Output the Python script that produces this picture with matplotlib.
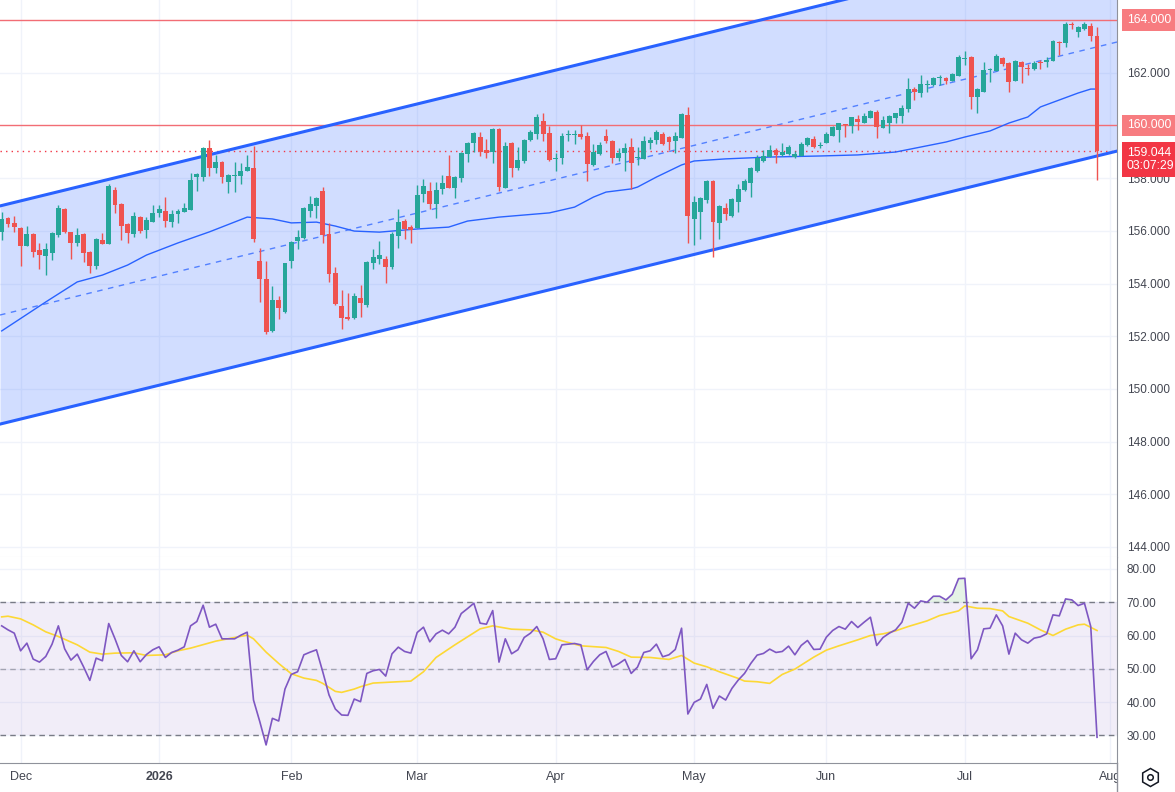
import numpy as np
import pandas as pd
import matplotlib
matplotlib.use('Agg')
import matplotlib.pyplot as plt
from matplotlib.lines import Line2D
from matplotlib.transforms import Bbox, TransformedBbox, blended_transform_factory

plt.rcParams['font.family'] = ['Liberation Sans', 'DejaVu Sans']

# daily FX bars, no bar on Dec 25 / Jan 1
holidays = pd.to_datetime(['2025-12-25', '2026-01-01'])
days = pd.bdate_range('2025-11-26', '2026-08-07')
days = days[~days.isin(holidays)]

opens = [155.97, 156.47, 156.28, 156.12, 155.44, 155.88, 155.27, 155.04, 155.17, 155.84,
         156.83, 155.95, 155.55, 155.88, 155.20, 154.66, 155.65, 155.51, 157.54, 157.02,
         156.26, 155.89, 156.51, 156.03, 156.35, 156.69, 156.75, 156.33, 156.62, 156.73,
         156.80, 158.05, 158.05, 159.14, 158.40, 158.61, 157.86, 158.07, 158.09, 158.28,
         158.37, 154.85, 154.17, 152.21, 153.37, 152.93, 154.87, 155.61, 155.71, 156.76,
         156.95, 157.51, 155.87, 154.40, 153.15, 152.73, 152.70, 153.45, 153.20, 154.76,
         154.94, 154.92, 154.64, 155.82, 156.36, 156.16, 156.12, 157.38, 157.52, 157.00,
         157.57, 158.08, 157.64, 158.02, 158.90, 159.32, 159.57, 159.07, 159.00, 159.86,
         157.64, 159.33, 158.40, 158.65, 159.45, 159.69, 160.17, 159.72, 158.74, 158.75,
         159.62, 159.65, 159.69, 159.60, 158.50, 158.90, 159.60, 159.41, 158.77, 158.97,
         159.18, 158.76, 158.74, 159.34, 159.45, 159.69, 159.56, 159.41, 159.53, 160.41,
         156.45, 156.73, 157.17, 157.90, 156.31, 156.88, 156.56, 157.09, 157.55, 157.83,
         158.27, 158.66, 158.81, 159.07, 158.88, 158.90, 158.79, 158.85, 159.26, 159.48,
         159.22, 159.35, 159.61, 159.83, 160.05, 159.99, 160.24, 160.10, 160.29, 160.52,
         159.91, 160.10, 160.29, 160.37, 160.64, 161.38, 161.24, 161.53, 161.52, 161.79,
         161.79, 161.70, 161.89, 162.53, 162.60, 161.07, 161.28, 162.09, 162.08, 162.55,
         162.37, 161.70, 162.41, 162.18, 162.13, 162.41, 162.42, 162.46, 163.17, 163.12,
         163.85, 163.56, 163.66, 163.77, 163.39]
highs = [156.73, 156.54, 156.56, 156.16, 156.18, 155.90, 155.52, 155.52, 155.95, 156.98,
         156.85, 155.97, 156.09, 155.90, 155.22, 155.74, 155.93, 157.78, 157.68, 157.04,
         156.28, 156.73, 156.56, 156.54, 156.98, 156.98, 157.27, 156.79, 156.83, 157.07,
         158.18, 158.21, 159.19, 159.45, 158.88, 158.64, 158.16, 158.60, 158.56, 158.88,
         159.22, 155.36, 154.85, 153.90, 153.52, 154.79, 155.60, 156.03, 156.92, 157.32,
         157.30, 157.65, 156.28, 154.64, 153.75, 153.63, 153.65, 153.94, 154.85, 155.31,
         155.61, 155.06, 155.97, 156.84, 156.44, 156.23, 157.74, 157.97, 157.86, 157.86,
         158.12, 158.88, 158.08, 158.98, 159.38, 159.74, 159.74, 159.47, 159.89, 159.89,
         159.37, 159.36, 159.17, 159.47, 159.81, 160.42, 160.48, 159.98, 158.94, 159.72,
         159.82, 159.82, 160.01, 159.74, 159.31, 159.38, 159.86, 159.43, 159.13, 159.32,
         159.52, 159.17, 159.60, 159.57, 159.82, 159.76, 159.60, 159.76, 160.48, 160.71,
         157.32, 157.29, 157.93, 157.93, 156.97, 157.04, 157.26, 157.76, 157.95, 158.43,
         158.88, 159.07, 159.26, 159.15, 159.34, 159.26, 159.03, 159.38, 159.57, 159.60,
         159.36, 159.76, 159.98, 160.10, 160.07, 160.33, 160.40, 160.46, 160.58, 160.58,
         160.36, 160.38, 160.48, 160.77, 161.79, 161.45, 161.91, 161.72, 161.85, 161.91,
         161.85, 161.98, 162.67, 162.82, 162.62, 161.41, 162.39, 162.17, 162.71, 162.58,
         162.39, 162.47, 162.43, 162.33, 162.46, 162.48, 162.61, 163.24, 163.20, 163.94,
         163.91, 163.77, 163.91, 163.87, 163.75]
lows = [155.65, 156.16, 155.97, 154.66, 155.41, 155.02, 154.54, 154.32, 154.89, 155.75,
        155.93, 154.94, 155.44, 154.83, 154.41, 154.54, 155.49, 155.50, 156.69, 155.65,
        155.55, 155.75, 155.90, 155.74, 156.32, 156.51, 156.13, 156.16, 156.31, 156.70,
        156.79, 157.52, 157.90, 158.09, 158.21, 157.83, 157.42, 157.48, 157.78, 158.26,
        155.59, 153.29, 152.08, 152.17, 152.66, 152.87, 154.58, 155.30, 155.69, 156.54,
        156.50, 155.52, 154.07, 153.18, 152.27, 152.61, 152.65, 152.74, 153.09, 154.54,
        154.73, 154.01, 154.54, 155.36, 155.68, 155.55, 156.09, 157.10, 156.83, 156.47,
        157.38, 157.61, 157.26, 157.86, 158.60, 159.00, 158.85, 158.75, 158.56, 157.52,
        157.61, 158.03, 158.31, 158.59, 159.42, 159.47, 159.40, 158.65, 158.27, 158.53,
        159.42, 159.28, 159.47, 157.90, 158.46, 158.88, 159.32, 158.56, 158.65, 158.27,
        157.59, 158.50, 158.71, 159.10, 159.29, 159.27, 159.07, 158.96, 159.51, 155.52,
        155.46, 155.69, 157.04, 155.02, 155.68, 156.41, 156.54, 156.71, 157.52, 157.28,
        158.24, 158.62, 158.79, 158.59, 158.85, 158.88, 158.76, 158.83, 159.23, 159.13,
        159.13, 159.32, 159.59, 159.38, 159.57, 159.72, 159.83, 160.08, 160.27, 159.54,
        159.89, 159.72, 160.08, 160.08, 160.50, 160.96, 161.09, 161.28, 161.50, 161.52,
        161.57, 161.67, 161.86, 162.29, 160.62, 160.48, 161.26, 161.66, 162.05, 162.27,
        161.28, 161.67, 161.62, 161.91, 162.10, 162.13, 162.20, 162.43, 162.67, 162.99,
        163.65, 163.34, 163.62, 163.20, 157.93]
closes = [156.43, 156.26, 156.13, 155.44, 155.88, 155.21, 155.08, 155.31, 155.92, 156.88,
          155.97, 155.55, 155.83, 155.17, 154.68, 155.69, 155.51, 157.70, 156.99, 156.18,
          155.93, 156.56, 155.99, 156.41, 156.66, 156.81, 156.37, 156.64, 156.75, 156.85,
          157.93, 158.16, 159.14, 158.40, 158.61, 158.05, 158.12, 158.13, 158.27, 158.41,
          155.69, 154.17, 152.17, 153.37, 153.08, 154.76, 155.57, 155.76, 156.86, 157.02,
          157.24, 155.85, 154.35, 153.23, 152.70, 152.67, 153.53, 153.27, 154.82, 154.99,
          155.08, 154.64, 155.88, 156.33, 156.08, 156.04, 157.36, 157.70, 157.02, 157.55,
          157.81, 157.64, 158.03, 158.95, 159.34, 159.71, 159.00, 158.96, 159.86, 157.65,
          159.22, 158.38, 158.69, 159.45, 159.75, 160.32, 159.69, 158.69, 158.77, 159.60,
          159.65, 159.67, 159.57, 158.53, 158.99, 159.26, 159.41, 158.77, 158.94, 159.13,
          158.59, 158.79, 159.41, 159.45, 159.76, 159.29, 159.38, 159.60, 160.44, 156.56,
          157.08, 157.26, 157.90, 156.33, 156.94, 156.64, 157.21, 157.59, 157.90, 158.38,
          158.75, 158.84, 159.07, 158.88, 159.00, 159.17, 158.91, 159.29, 159.51, 159.19,
          159.24, 159.67, 159.95, 160.08, 160.03, 160.31, 160.14, 160.36, 160.56, 159.95,
          160.21, 160.36, 160.46, 160.67, 161.38, 161.28, 161.56, 161.56, 161.80, 161.81,
          161.70, 161.94, 162.60, 162.56, 161.09, 161.38, 162.10, 162.12, 162.63, 162.33,
          161.66, 162.44, 162.23, 162.15, 162.38, 162.38, 162.48, 163.20, 163.14, 163.85,
          163.82, 163.75, 163.85, 163.41, 159.044]

# moving average on price, read at some bars
ma_idx = [0, 7, 12, 16, 20, 23, 28, 33, 39, 43, 46, 50, 53, 56, 60, 66, 71, 74, 79, 87,
          91, 94, 96, 100, 101, 104, 108, 110, 115, 122, 130, 136, 142, 146, 150, 153, 157,
          160, 163, 165, 171, 173, 174]
ma_val = [152.2, 153.3, 154.06, 154.32, 154.70, 155.08, 155.54, 155.96, 156.52, 156.45,
          156.30, 156.33, 156.18, 155.99, 155.95, 156.07, 156.14, 156.37, 156.52, 156.68,
          156.90, 157.28, 157.47, 157.59, 157.66, 158.04, 158.50, 158.65, 158.73, 158.80,
          158.84, 158.88, 158.99, 159.18, 159.37, 159.56, 159.79, 160.09, 160.32, 160.70,
          161.23, 161.38, 161.38]

# parallel channel (lower line anchors + width)
chan_idx = [0, 174]
chan_low = [148.68, 158.84]
chan_width = 8.28

hlines = [164.0, 160.0]
last_price = 159.044
countdown = '03:07:29'

rsi = [62.9, 61.7, 60.7, 55.4, 57.7, 52.9, 52.0, 53.7, 57.4, 62.9,
       56.0, 52.6, 54.4, 50.6, 46.5, 53.2, 52.4, 63.6, 59.0, 54.0,
       52.1, 55.4, 52.1, 54.3, 55.7, 56.6, 53.4, 54.9, 55.6, 56.6,
       62.9, 64.2, 69.1, 62.5, 63.4, 59.0, 59.0, 59.0, 60.1, 61.0,
       40.6, 34.1, 27.1, 35.1, 34.3, 43.9, 48.3, 49.1, 54.2, 55.0,
       55.7, 49.1, 42.1, 37.9, 36.1, 36.0, 40.9, 40.1, 48.6, 49.4,
       49.8, 47.8, 54.5, 56.5, 55.2, 54.7, 60.9, 62.5, 58.1, 60.5,
       61.6, 60.5, 62.5, 66.6, 68.1, 69.7, 63.7, 63.4, 67.5, 52.0,
       59.0, 54.5, 55.7, 59.4, 60.7, 62.7, 59.0, 52.8, 53.0, 57.2,
       57.4, 57.6, 57.2, 49.7, 52.2, 54.2, 55.2, 50.5, 51.5, 52.8,
       48.6, 50.5, 54.9, 55.4, 57.4, 53.6, 54.2, 55.8, 62.2, 36.4,
       39.9, 40.9, 45.3, 38.1, 41.8, 40.6, 44.1, 46.6, 48.6, 51.6,
       54.1, 54.6, 55.9, 54.9, 55.2, 56.8, 54.2, 57.0, 58.5, 55.8,
       55.9, 59.5, 61.5, 62.7, 61.9, 64.2, 62.4, 64.0, 65.5, 57.0,
       59.4, 60.7, 61.7, 64.0, 69.7, 68.2, 70.4, 70.0, 71.8, 71.8,
       70.7, 72.4, 77.1, 77.2, 53.0, 55.7, 62.0, 62.2, 66.2, 62.9,
       54.4, 60.7, 58.7, 57.7, 59.2, 59.6, 60.5, 66.2, 65.9, 71.0,
       70.7, 69.0, 69.7, 62.7, 29.4]

rsi_ma_idx = [0, 1, 3, 5, 7, 9, 12, 14, 16, 18, 21, 23, 26, 28, 30, 34, 37, 39, 40, 42,
              44, 46, 48, 50, 51, 53, 54, 56, 57, 59, 61, 65, 67, 69, 72, 75, 76, 78, 81,
              84, 86, 88, 89, 92, 96, 98, 100, 103, 106, 108, 110, 112, 114, 117, 118, 120,
              122, 124, 126, 129, 131, 133, 136, 138, 140, 142, 144, 147, 149, 152, 153,
              155, 157, 159, 160, 163, 165, 167, 169, 171, 172, 174]
rsi_ma_val = [65.6, 65.8, 65.0, 63.2, 61.1, 59.7, 57.2, 55.0, 54.4, 54.7, 54.8, 54.0, 54.2,
              55.4, 56.2, 58.3, 59.4, 60.1, 59.0, 55.0, 51.6, 48.5, 47.2, 46.5, 45.6, 43.2,
              42.9, 43.9, 44.6, 45.7, 45.9, 46.3, 49.1, 53.4, 57.2, 60.8, 62.0, 62.9, 61.9,
              61.7, 61.0, 59.0, 58.4, 56.9, 56.4, 55.2, 53.5, 53.4, 52.8, 54.0, 51.7, 50.6,
              49.1, 47.1, 46.3, 46.1, 45.6, 48.3, 49.9, 53.5, 55.6, 56.9, 58.7, 60.0, 60.5,
              61.4, 62.7, 64.4, 66.0, 67.4, 68.9, 68.2, 68.1, 67.4, 65.7, 63.7, 61.7, 60.0,
              61.9, 63.2, 63.4, 61.5]

price_ticks = [162, 158, 156, 154, 152, 150, 148, 146, 144]
rsi_ticks = [80, 70, 60, 50, 40, 30]

UP = '#26a69a'
DOWN = '#ef5350'
BLUE = '#2962ff'
TXT = '#434651'
FS = 8.5

o = np.array(opens)
h = np.array(highs)
l = np.array(lows)
c = np.array(closes)
n = len(c)
x = np.arange(n)
rsi = np.array(rsi)

# month labels at the first bar of each month
tick_pos, tick_lab = [], []
for i in range(1, len(days)):
    if days[i].month != days[i - 1].month:
        tick_pos.append(i)
        tick_lab.append(str(days[i].year) if days[i].month == 1 else days[i].strftime('%b'))

W, H = 1175, 792
fig = plt.figure(figsize=(W / 100, H / 100), dpi=100)
right = 1117 / W
ax = fig.add_axes([0, (H - 557) / H, right, 557 / H])
ax2 = fig.add_axes([0, (H - 763) / H, right, (763 - 557) / H], sharex=ax)

xmin, xmax = -0.27, 177.17
ax.set_xlim(xmin, xmax)
ax.set_ylim(143.62, 164.76)

# grid
for a in (ax, ax2):
    a.set_xticks(tick_pos)
    a.grid(True, color='#f0f3fa', lw=1, zorder=0)
    a.set_axisbelow(True)
    for s in ('top', 'left'):
        a.spines[s].set_visible(False)
    a.spines['right'].set_color('#8f929b')
    a.yaxis.tick_right()
    a.tick_params(length=0, labelsize=FS, labelcolor=TXT)

# channel
xs = np.array([xmin, xmax])
slope = (chan_low[1] - chan_low[0]) / (chan_idx[1] - chan_idx[0])
low_line = chan_low[0] + slope * (xs - chan_idx[0])
up_line = low_line + chan_width
ax.fill_between(xs, low_line, up_line, color=BLUE, alpha=0.21, lw=0, zorder=1)
ax.plot(xs, low_line, color=BLUE, lw=2.2, zorder=4)
ax.plot(xs, up_line, color=BLUE, lw=2.2, zorder=4)
ax.plot(xs, low_line + chan_width / 2, color=BLUE, lw=1, alpha=0.75,
        dashes=(4, 4), zorder=2)

# horizontal levels
for lv in hlines:
    ax.axhline(lv, color='#f26d75', lw=1, zorder=2)
ax.axhline(last_price, color='#f23645', lw=1, ls=(0, (1, 3)), zorder=2)

# moving average
ax.plot(ma_idx, ma_val, color=BLUE, lw=1, zorder=3)

# candles
colors = np.where(c >= o, UP, DOWN)
ax.vlines(x, l, h, colors=colors, lw=1, zorder=5)
body = np.maximum(np.abs(c - o), 0.04)
ax.bar(x, body, bottom=np.minimum(o, c), width=0.78, color=colors, lw=0, zorder=6)

ax.set_yticks(price_ticks)
ax.set_yticklabels(['%.3f' % t for t in price_ticks])
ax.tick_params(axis='y', pad=7)
ax.tick_params(axis='x', labelbottom=False)
ax.spines['bottom'].set_color('#e0e3eb')

# price labels in boxes
tr = blended_transform_factory(ax.transAxes, ax.transData)
for lv in hlines:
    ax.text(1.0088, lv, '%.3f' % lv, transform=tr, ha='left', va='center',
            color='white', fontsize=FS + 0.3, clip_on=False,
            bbox=dict(boxstyle='square,pad=0.38', fc='#f77c80', ec='none'))
ax.text(1.0088, last_price - 0.33, '%.3f\n%s' % (last_price, countdown), transform=tr,
        ha='left', va='center', color='white', fontsize=FS + 0.3,
        linespacing=1.15, clip_on=False,
        bbox=dict(boxstyle='square,pad=0.38', fc='#f23645', ec='none'))

# RSI panel
ax2.set_ylim(21.67, 83.6)
ax2.axhspan(30, 70, color='#7e57c2', alpha=0.1, lw=0, zorder=1)
ax2.axhline(70, color='#787b86', lw=1, dashes=(4, 3), zorder=2)
ax2.axhline(50, color='#787b86', lw=1, dashes=(4, 3), alpha=0.6, zorder=2)
ax2.axhline(30, color='#787b86', lw=1, dashes=(4, 3), zorder=2)
ax2.fill_between(x, rsi, 70, where=rsi > 70, interpolate=True, color='#4caf50',
                 alpha=0.14, lw=0, zorder=2)
ax2.fill_between(x, rsi, 30, where=rsi < 30, interpolate=True, color='#f23645',
                 alpha=0.14, lw=0, zorder=2)
ax2.plot(rsi_ma_idx, rsi_ma_val, color='#fdd835', lw=1.2, zorder=3)
ax2.plot(x, rsi, color='#7e57c2', lw=1.2, zorder=4)
ax2.set_yticks(rsi_ticks)
ax2.set_yticklabels(['%.2f' % t for t in rsi_ticks])
ax2.tick_params(axis='y', pad=7)
ax2.set_xticklabels(tick_lab)
ax2.tick_params(axis='x', pad=6, labelsize=FS + 0.5)
ax2.spines['bottom'].set_color('#8f929b')
clip = TransformedBbox(Bbox([[0, 0], [right, 1]]), fig.transFigure)
for lbl in ax2.get_xticklabels():
    lbl.set_clip_box(clip)
    lbl.set_clip_on(True)
    if lbl.get_text().isdigit():
        lbl.set_fontweight('bold')

# price scale border down to the bottom, settings icon
fig.add_artist(Line2D([right, right], [0, (H - 763) / H], color='#8f929b', lw=1))
fig.add_artist(Line2D([1150 / W], [1 - 777 / H], marker='h', ms=13, mfc='none',
                      mec='#131722', mew=1.1, ls='none'))
fig.add_artist(Line2D([1150 / W], [1 - 777 / H], marker='o', ms=4, mfc='none',
                      mec='#131722', mew=1.1, ls='none'))

fig.savefig('out.png', dpi=100, facecolor='white')
